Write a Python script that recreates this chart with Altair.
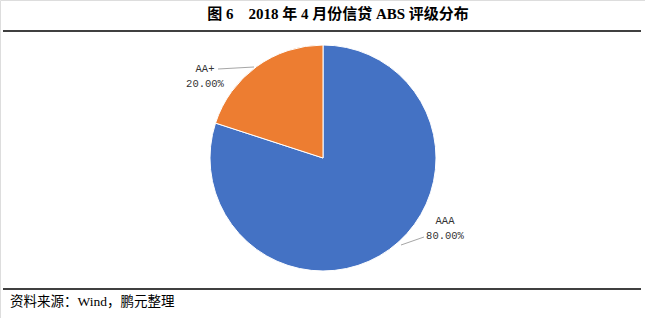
import altair as alt
import pandas as pd

ratings = ["AAA", "AA+"]
shares = [80.0, 20.0]
colors = ["#4472C4", "#ED7D31"]
title_text = "图 6\u00a0\u00a0\u00a0\u00a02018 年 4 月份信贷 ABS 评级分布"
source_text = "资料来源：Wind，鹏元整理"

df = pd.DataFrame({"rating": ratings, "share": shares, "idx": list(range(len(ratings)))})
df["label"] = df["share"].map(lambda v: f"{v:.2f}%")
one = pd.DataFrame({"a": [0]})

W, H = 645, 318

pie = alt.Chart(df).mark_arc(outerRadius=113, stroke="white", strokeWidth=1).encode(
    theta=alt.Theta("share:Q", stack=True),
    color=alt.Color("rating:N", scale=alt.Scale(domain=ratings, range=colors), legend=None),
    order=alt.Order("idx:Q"),
    x=alt.value(323),
    y=alt.value(158),
)

lbl_font = "Liberation Mono"

def label(i, x, y):
    sub = df.iloc[[i]]
    name = alt.Chart(sub).mark_text(font=lbl_font, fontSize=10.5, color="#333333", align="center", baseline="middle").encode(
        text="rating:N", x=alt.value(x), y=alt.value(y))
    val = alt.Chart(sub).mark_text(font=lbl_font, fontSize=10.5, color="#333333", align="center", baseline="middle").encode(
        text="label:N", x=alt.value(x), y=alt.value(y + 15))
    return name + val

lab_aa = label(1, 205, 69)
lab_aaa = label(0, 445, 221)

lead1 = alt.Chart(one).mark_rule(color="#A6A6A6", strokeWidth=1).encode(
    x=alt.value(218), x2=alt.value(254), y=alt.value(69), y2=alt.value(67))
lead2 = alt.Chart(one).mark_rule(color="#A6A6A6", strokeWidth=1).encode(
    x=alt.value(401), x2=alt.value(424), y=alt.value(245), y2=alt.value(237))

title = alt.Chart(one).mark_text(font="Liberation Serif, Noto Sans CJK SC", fontSize=15, fontWeight="bold",
                                 color="black", align="center", baseline="middle").encode(
    text=alt.value(title_text), x=alt.value(338), y=alt.value(14))

top_line = alt.Chart(one).mark_rule(color="black", strokeWidth=1.3).encode(
    x=alt.value(3), x2=alt.value(641), y=alt.value(31))
bot_line = alt.Chart(one).mark_rule(color="black", strokeWidth=1.3).encode(
    x=alt.value(3), x2=alt.value(641), y=alt.value(289))

source = alt.Chart(one).mark_text(font="Liberation Serif, Noto Sans CJK SC", fontSize=13.5,
                                  color="black", align="left", baseline="middle").encode(
    text=alt.value(source_text), x=alt.value(10), y=alt.value(302))

chart = alt.layer(pie, lead1, lead2, lab_aa, lab_aaa, title, top_line, bot_line, source).properties(
    width=W, height=H, padding=0, autosize=alt.AutoSizeParams(type="none")
).configure_view(stroke=None).configure(background="white")

chart.save("out.html", embed_options={"renderer": "svg", "actions": False})
